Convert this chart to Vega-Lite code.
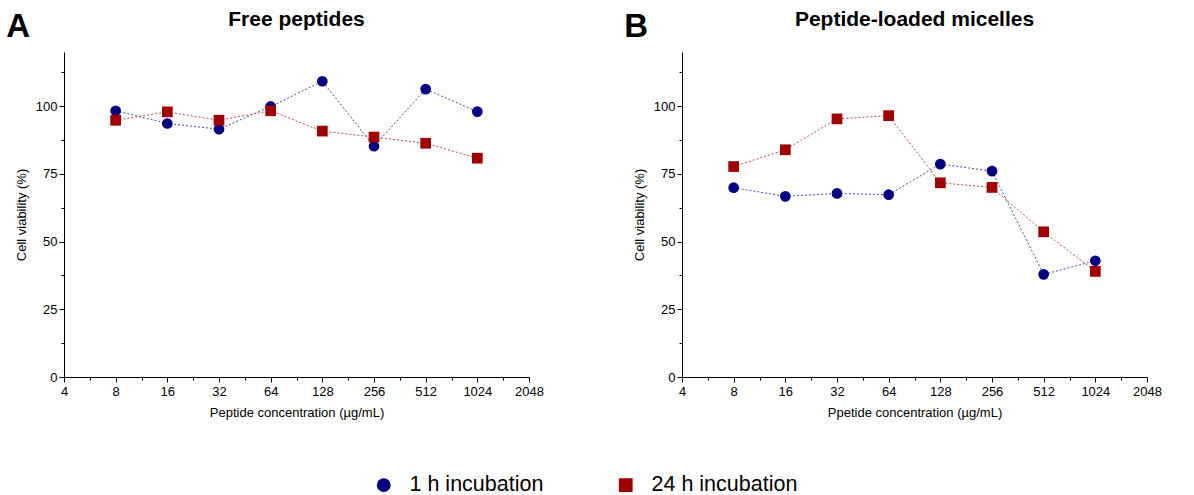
{
  "$schema": "https://vega.github.io/schema/vega-lite/v6.json",
  "padding": {"left": 6, "top": 9, "right": 5, "bottom": 5},
  "background": "white",
  "config": {
    "font": "Liberation Sans",
    "view": {"stroke": null},
    "axis": {"domainColor": "black", "tickColor": "black", "labelColor": "black", "titleColor": "black", "labelFontSize": 13, "titleFontSize": 13, "titleFontWeight": "normal", "grid": false, "domainWidth": 1, "tickWidth": 1, "labelOverlap": false, "labelFlush": false},
    "title": {"fontSize": 21, "fontWeight": "bold", "color": "black"},
    "legend": {"labelFontSize": 21.5, "labelColor": "black", "symbolSize": 190, "symbolStrokeWidth": 0}
  },
  "data": {"values": [
    {"panel": "A", "group": "1 h incubation", "conc": 8, "viability": 98.3},
    {"panel": "A", "group": "1 h incubation", "conc": 16, "viability": 93.6},
    {"panel": "A", "group": "1 h incubation", "conc": 32, "viability": 91.5},
    {"panel": "A", "group": "1 h incubation", "conc": 64, "viability": 99.9},
    {"panel": "A", "group": "1 h incubation", "conc": 128, "viability": 109.2},
    {"panel": "A", "group": "1 h incubation", "conc": 256, "viability": 85.2},
    {"panel": "A", "group": "1 h incubation", "conc": 512, "viability": 106.3},
    {"panel": "A", "group": "1 h incubation", "conc": 1024, "viability": 98.0},
    {"panel": "A", "group": "24 h incubation", "conc": 8, "viability": 94.8},
    {"panel": "A", "group": "24 h incubation", "conc": 16, "viability": 97.9},
    {"panel": "A", "group": "24 h incubation", "conc": 32, "viability": 94.8},
    {"panel": "A", "group": "24 h incubation", "conc": 64, "viability": 98.3},
    {"panel": "A", "group": "24 h incubation", "conc": 128, "viability": 90.8},
    {"panel": "A", "group": "24 h incubation", "conc": 256, "viability": 88.6},
    {"panel": "A", "group": "24 h incubation", "conc": 512, "viability": 86.3},
    {"panel": "A", "group": "24 h incubation", "conc": 1024, "viability": 80.8},
    {"panel": "B", "group": "1 h incubation", "conc": 8, "viability": 69.9},
    {"panel": "B", "group": "1 h incubation", "conc": 16, "viability": 66.7},
    {"panel": "B", "group": "1 h incubation", "conc": 32, "viability": 67.8},
    {"panel": "B", "group": "1 h incubation", "conc": 64, "viability": 67.3},
    {"panel": "B", "group": "1 h incubation", "conc": 128, "viability": 78.6},
    {"panel": "B", "group": "1 h incubation", "conc": 256, "viability": 76.0},
    {"panel": "B", "group": "1 h incubation", "conc": 512, "viability": 37.9},
    {"panel": "B", "group": "1 h incubation", "conc": 1024, "viability": 42.9},
    {"panel": "B", "group": "24 h incubation", "conc": 8, "viability": 77.7},
    {"panel": "B", "group": "24 h incubation", "conc": 16, "viability": 83.9},
    {"panel": "B", "group": "24 h incubation", "conc": 32, "viability": 95.3},
    {"panel": "B", "group": "24 h incubation", "conc": 64, "viability": 96.5},
    {"panel": "B", "group": "24 h incubation", "conc": 128, "viability": 71.7},
    {"panel": "B", "group": "24 h incubation", "conc": 256, "viability": 70.0},
    {"panel": "B", "group": "24 h incubation", "conc": 512, "viability": 53.6},
    {"panel": "B", "group": "24 h incubation", "conc": 1024, "viability": 39.0}
  ]},
  "spacing": 80,
  "hconcat": [
    {
      "title": {"text": "A", "anchor": "start", "fontSize": 33, "dy": 23, "dx": -9, "offset": -12},
      "vconcat": [
        {
          "title": {"text": "Free peptides", "offset": 22},
          "width": 465,
          "height": 325,
          "transform": [{"filter": "datum.panel === 'A'"}],
          "encoding": {
            "x": {"field": "conc", "type": "quantitative", "scale": {"type": "log", "base": 2, "domain": [4, 2048]},
              "axis": {"title": "Peptide concentration (µg/mL)", "values": [4, 5.657, 8, 11.314, 16, 22.627, 32, 45.255, 64, 90.51, 128, 181.02, 256, 362.04, 512, 724.08, 1024, 1448.15, 2048],
                "labelExpr": "abs(log(datum.value)/log(2) - round(log(datum.value)/log(2))) < 0.01 ? format(datum.value, '.0f') : ''",
                "tickSize": {"condition": {"test": "abs(log(datum.value)/log(2) - round(log(datum.value)/log(2))) < 0.01", "value": 5}, "value": 3},
                "labelPadding": 3, "titlePadding": 8}},
            "y": {"field": "viability", "type": "quantitative", "scale": {"domain": [0, 120], "nice": false, "zero": true},
              "axis": {"title": "Cell viability (%)", "values": [0, 12.5, 25, 37.5, 50, 62.5, 75, 87.5, 100, 112.5],
                "labelExpr": "datum.value % 25 === 0 ? format(datum.value, '.0f') : ''",
                "tickSize": {"condition": {"test": "datum.value % 25 === 0", "value": 5}, "value": 3},
                "labelPadding": 2, "titlePadding": 7}}
          },
          "layer": [
            {"transform": [{"filter": "datum.group === '1 h incubation'"}],
              "mark": {"type": "line", "strokeWidth": 1, "strokeDash": [2, 2], "color": "#4848b0"}},
            {"transform": [{"filter": "datum.group === '24 h incubation'"}],
              "mark": {"type": "line", "strokeWidth": 1, "strokeDash": [2, 2], "color": "#c84848"}},
            {"mark": {"type": "point", "filled": true, "opacity": 1, "size": 115},
              "encoding": {
                "color": {"field": "group", "type": "nominal", "scale": {"domain": ["1 h incubation", "24 h incubation"], "range": ["#000080", "#a00000"]}, "title": null,
                  "legend": {"orient": "none", "direction": "horizontal", "legendX": 309, "legendY": 422, "columnPadding": 71, "labelOffset": 15}},
                "shape": {"field": "group", "type": "nominal", "scale": {"domain": ["1 h incubation", "24 h incubation"], "range": ["circle", "square"]}, "title": null}
              }}
          ]
        }
      ]
    },
    {
      "title": {"text": "B", "anchor": "start", "fontSize": 33, "dy": 23, "dx": -9, "offset": -12},
      "vconcat": [
        {
          "title": {"text": "Peptide-loaded micelles", "offset": 22},
          "width": 465,
          "height": 325,
          "transform": [{"filter": "datum.panel === 'B'"}],
          "encoding": {
            "x": {"field": "conc", "type": "quantitative", "scale": {"type": "log", "base": 2, "domain": [4, 2048]},
              "axis": {"title": "Ppetide concentration (µg/mL)", "values": [4, 5.657, 8, 11.314, 16, 22.627, 32, 45.255, 64, 90.51, 128, 181.02, 256, 362.04, 512, 724.08, 1024, 1448.15, 2048],
                "labelExpr": "abs(log(datum.value)/log(2) - round(log(datum.value)/log(2))) < 0.01 ? format(datum.value, '.0f') : ''",
                "tickSize": {"condition": {"test": "abs(log(datum.value)/log(2) - round(log(datum.value)/log(2))) < 0.01", "value": 5}, "value": 3},
                "labelPadding": 3, "titlePadding": 8}},
            "y": {"field": "viability", "type": "quantitative", "scale": {"domain": [0, 120], "nice": false, "zero": true},
              "axis": {"title": "Cell viability (%)", "values": [0, 12.5, 25, 37.5, 50, 62.5, 75, 87.5, 100, 112.5],
                "labelExpr": "datum.value % 25 === 0 ? format(datum.value, '.0f') : ''",
                "tickSize": {"condition": {"test": "datum.value % 25 === 0", "value": 5}, "value": 3},
                "labelPadding": 2, "titlePadding": 7}}
          },
          "layer": [
            {"transform": [{"filter": "datum.group === '1 h incubation'"}],
              "mark": {"type": "line", "strokeWidth": 1, "strokeDash": [2, 2], "color": "#4848b0"}},
            {"transform": [{"filter": "datum.group === '24 h incubation'"}],
              "mark": {"type": "line", "strokeWidth": 1, "strokeDash": [2, 2], "color": "#c84848"}},
            {"mark": {"type": "point", "filled": true, "opacity": 1, "size": 115},
              "encoding": {
                "color": {"field": "group", "type": "nominal", "scale": {"domain": ["1 h incubation", "24 h incubation"], "range": ["#000080", "#a00000"]}, "title": null},
                "shape": {"field": "group", "type": "nominal", "scale": {"domain": ["1 h incubation", "24 h incubation"], "range": ["circle", "square"]}, "title": null}
              }}
          ]
        }
      ]
    }
  ]
}
